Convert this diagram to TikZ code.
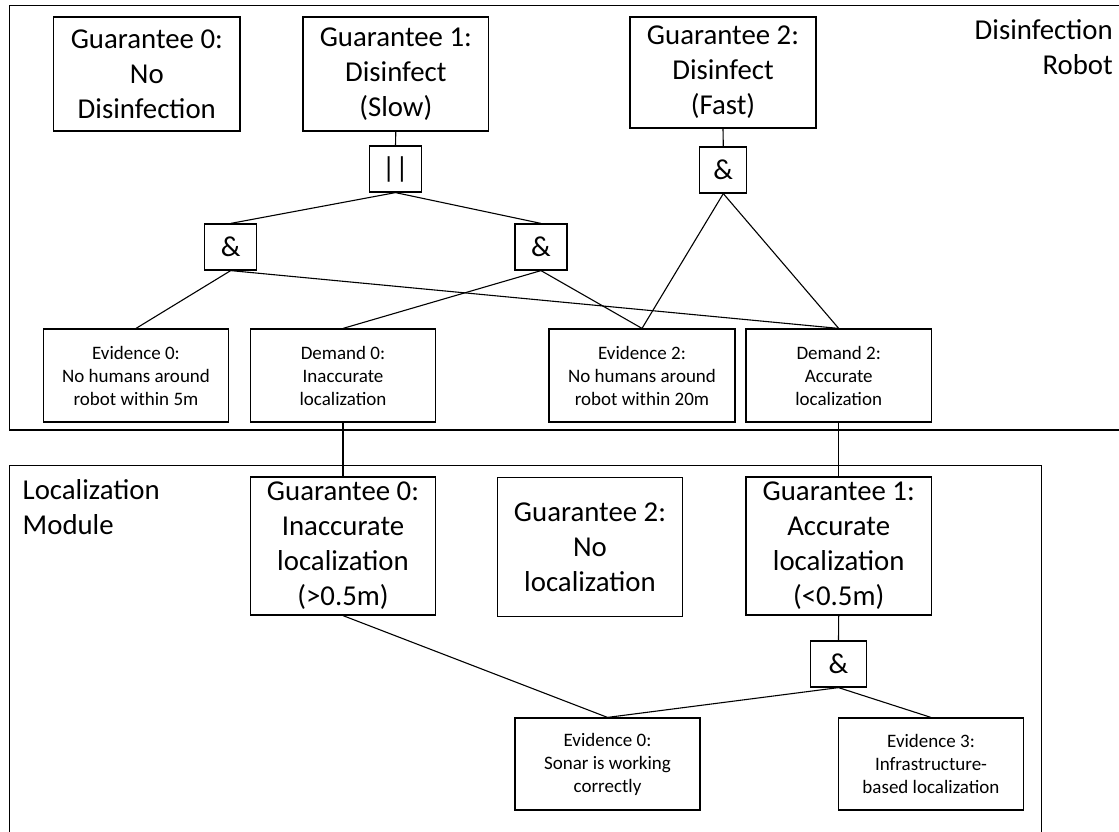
\documentclass[tikz,border=0pt]{standalone}
\usepackage{fontspec}
\setmainfont{Carlito}
\begin{document}
\begin{tikzpicture}[x=1pt,y=-1pt,
  bigbox/.style={draw, line width=1.2pt, inner sep=0pt, align=center, font=\fontsize{28.8}{35}\selectfont},
  smallbox/.style={draw, line width=1.2pt, inner sep=0pt, align=center, font=\fontsize{19}{23}\selectfont},
  gate/.style={draw, line width=1.2pt, inner sep=0pt, minimum height=46pt, font=\fontsize{28.8}{35}\selectfont},
  conn/.style={line width=1.1pt},
  frame/.style={line width=1.3pt},
  label/.style={inner sep=0pt, font=\fontsize{28.8}{35}\selectfont}]
\useasboundingbox (0,0) rectangle (1119,831);
\begin{scope}
\clip (0,0) rectangle (1119,831);
\draw[frame] (1130,5.3) -- (9.6,5.3) -- (9.6,430) -- (1130,430);
\draw[frame] (9.6,840) -- (9.6,465.3) -- (1041.5,465.3) -- (1041.5,840);
\end{scope}
\node[label, anchor=east, align=right] (rtitle) at (1113,47.5) {Disinfection\\Robot};
\node[label, anchor=west, align=left] (ltitle) at (22.5,507.5) {Localization\\Module};
% top module
\node[bigbox, minimum width=186.4pt, minimum height=114pt] (g0) at (146.8,74) {Guarantee 0:\\No\\Disinfection};
\node[bigbox, minimum width=185.6pt, minimum height=114pt] (g1) at (395.8,74) {Guarantee 1:\\Disinfect\\(Slow)};
\node[bigbox, minimum width=186pt, minimum height=111pt] (g2) at (723,72.5) {Guarantee 2:\\Disinfect\\(Fast)};
\node[gate, minimum width=52pt] (or1) at (395.5,169) {||};
\node[gate, minimum width=52pt] (andL) at (230.7,247) {\&};
\node[gate, minimum width=52pt] (andR) at (541,247) {\&};
\node[gate, minimum width=47pt] (andT) at (723.3,170) {\&};
\node[smallbox, minimum width=185pt, minimum height=93pt] (ev0) at (136,375.5) {Evidence 0:\\No humans around\\robot within 5m};
\node[smallbox, minimum width=185pt, minimum height=93pt] (dm0) at (343,375.5) {Demand 0:\\Inaccurate\\localization};
\node[smallbox, minimum width=186pt, minimum height=93pt] (ev2) at (642,375.5) {Evidence 2:\\No humans around\\robot within 20m};
\node[smallbox, minimum width=185.4pt, minimum height=93pt] (dm2) at (838.7,375.5) {Demand 2:\\Accurate\\localization};
% bottom module
\node[bigbox, minimum width=185pt, minimum height=138pt] (lg0) at (343,546) {Guarantee 0:\\Inaccurate\\localization\\(>0.5m)};
\node[bigbox, minimum width=185.5pt, minimum height=138.7pt] (lg2) at (590,547) {Guarantee 2:\\No\\localization};
\node[bigbox, minimum width=185.4pt, minimum height=138pt] (lg1) at (838.7,546) {Guarantee 1:\\Accurate\\localization\\(<0.5m)};
\node[gate, minimum width=55.7pt] (andB) at (838.5,664) {\&};
\node[smallbox, minimum width=185pt, minimum height=92pt] (ev0b) at (607.5,764) {Evidence 0:\\Sonar is working\\correctly};
\node[smallbox, minimum width=185.7pt, minimum height=92pt] (ev3) at (931,764) {Evidence 3:\\Infrastructure-\\based localization};
% connectors
\draw[conn] (g1.south) -- (or1.north);
\draw[conn] (or1.south) -- (andL.north);
\draw[conn] (or1.south) -- (andR.north);
\draw[conn] (g2.south) -- (andT.north);
\draw[conn] (andL.south) -- (ev0.north);
\draw[conn] (andL.south) -- (dm2.north);
\draw[conn] (andR.south) -- (dm0.north);
\draw[conn] (andR.south) -- (ev2.north);
\draw[conn] (andT.south) -- (ev2.north);
\draw[conn] (andT.south) -- (dm2.north);
\draw[conn] (dm0.south) -- (lg0.north);
\draw[conn] (dm2.south) -- (lg1.north);
\draw[conn] (lg0.south) -- (ev0b.north);
\draw[conn] (lg1.south) -- (andB.north);
\draw[conn] (andB.south) -- (ev0b.north);
\draw[conn] (andB.south) -- (ev3.north);
\end{tikzpicture}
\end{document}
